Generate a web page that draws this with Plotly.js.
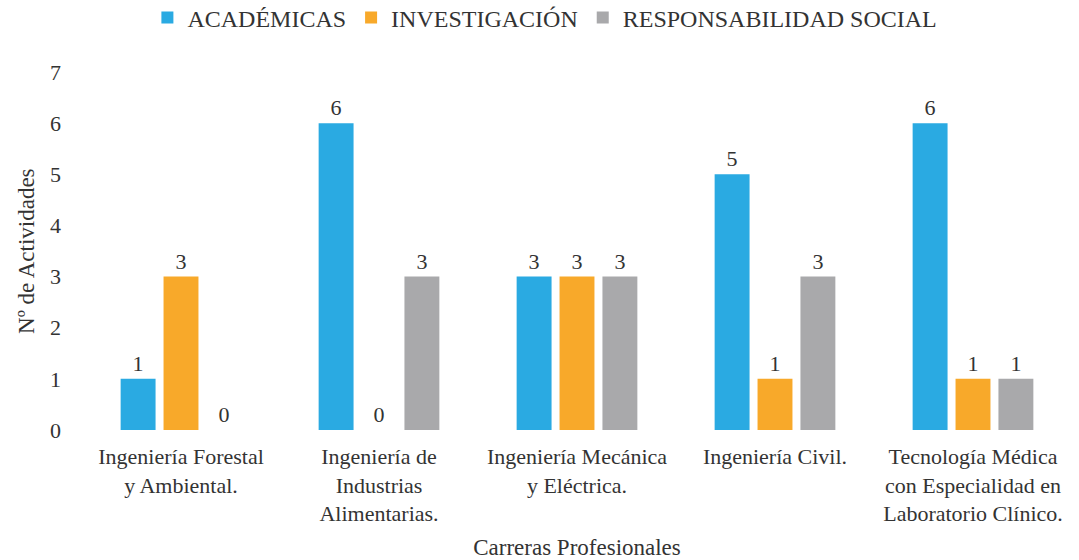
<!DOCTYPE html>
<html>
<head>
<meta charset="utf-8">
<script src="https://cdn.plot.ly/plotly-3.0.1.min.js"></script>
<style>html,body{margin:0;padding:0;background:#fff;}#chart{width:1079px;height:560px;}</style>
</head>
<body>
<div id="chart"></div>
<script>
const categories = [
  "Ingeniería Forestal<br>y Ambiental.",
  "Ingeniería de<br>Industrias<br>Alimentarias.",
  "Ingeniería Mecánica<br>y Eléctrica.",
  "Ingeniería Civil.",
  "Tecnología Médica<br>con Especialidad en<br>Laboratorio Clínico."
];
const seriesNames = ["ACADÉMICAS", "INVESTIGACIÓN", "RESPONSABILIDAD SOCIAL"];
const academicas = [1, 6, 3, 5, 6];
const investigacion = [3, 0, 3, 1, 1];
const responsabilidad = [0, 3, 3, 3, 1];
const colors = ["#2aaae2", "#f8a92a", "#a9a9ab"];
const yTitle = "Nº de Actividades";
const xTitle = "Carreras Profesionales";

const FONT = "'Liberation Serif', 'Times New Roman', Times, 'DejaVu Serif', serif";
const values = [academicas, investigacion, responsabilidad];
const traces = values.map((v, i) => ({
  type: "bar",
  name: seriesNames[i],
  x: categories,
  y: v,
  text: v.map(String),
  textposition: "outside",
  cliponaxis: false,
  textfont: {family: FONT, size: 22, color: "#333"},
  marker: {color: colors[i]},
  hoverinfo: "none"
}));

const layout = {
  width: 1079, height: 560,
  margin: {l: 82, r: 7, t: 72, b: 130},
  paper_bgcolor: "#fff", plot_bgcolor: "#fff",
  font: {family: FONT, size: 20, color: "#333"},
  barmode: "group",
  bargap: 0.35,
  bargroupgap: 0.186,
  showlegend: true,
  legend: {orientation: "h", xref: "container", yref: "container",
           x: 0.505, xanchor: "center", y: 0.968, yanchor: "middle",
           font: {family: FONT, size: 24, color: "#333"}, itemwidth: 30, traceorder: "normal"},
  xaxis: {
    type: "category",
    showline: false, showgrid: false, zeroline: false, ticks: "",
    tickfont: {family: FONT, size: 22, color: "#333"},
    tickangle: 0,
    ticklabelstandoff: 11,
    automargin: false,
    title: {text: xTitle, font: {family: FONT, size: 23, color: "#333"}, standoff: 14}
  },
  yaxis: {
    range: [0, 7], dtick: 1,
    showline: false, showgrid: false, zeroline: false, ticks: "",
    tickfont: {family: FONT, size: 22, color: "#333"},
    ticklabelstandoff: 20,
    automargin: false
  },
  annotations: [{
    text: yTitle, xref: "paper", yref: "paper", x: -0.0566, y: 0.5,
    xanchor: "center", yanchor: "middle", textangle: -90, showarrow: false,
    font: {family: FONT, size: 23, color: "#333"}
  }]
};
Plotly.newPlot("chart", traces, layout, {displayModeBar: false, staticPlot: true});
</script>
</body>
</html>
